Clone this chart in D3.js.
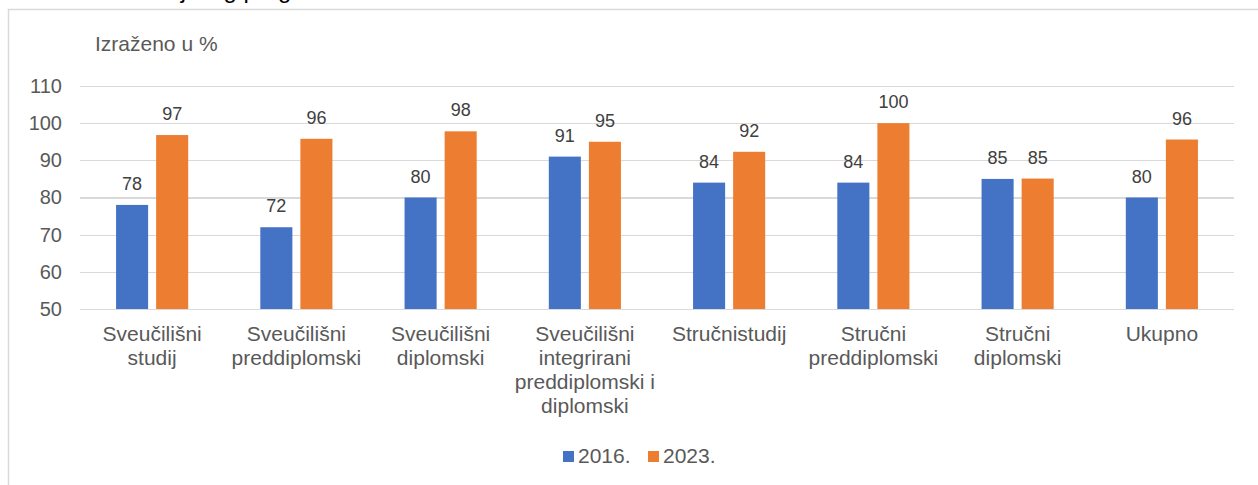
<!DOCTYPE html>
<head>
  <meta charset="utf-8">
  <script src="https://d3js.org/d3.v7.min.js"></script>
  <style>
    body { margin: 0; background: #fff; }
    svg { display: block; font-family: "Liberation Sans", Arial, sans-serif; }
    .grid line { stroke: #d9d9d9; stroke-width: 1.2px; shape-rendering: crispEdges; }
    .grid path { stroke-width: 0; }
    .grid text { fill: #595959; font-size: 20px; }
    .cat text { fill: #595959; font-size: 21px; }
    .cat path, .cat line { display: none; }
    .lbl { fill: #404040; font-size: 18px; }
    .legend text { fill: #595959; font-size: 21px; }
  </style>
</head>
<body>
<svg width="1258" height="485"></svg>
<script>

// data
var categories = [
  ["Sveučilišni", "studij"],
  ["Sveučilišni", "preddiplomski"],
  ["Sveučilišni", "diplomski"],
  ["Sveučilišni", "integrirani", "preddiplomski i", "diplomski"],
  ["Stručnistudij"],
  ["Stručni", "preddiplomski"],
  ["Stručni", "diplomski"],
  ["Ukupno"]
];
var seriesNames = ["2016.", "2023."];
var values2016 = [78, 72, 80, 91, 84, 84, 85, 80];
var values2023 = [96.8, 95.8, 97.8, 95.0, 92.3, 100, 85.1, 95.6];
var yTicks = [50, 60, 70, 80, 90, 100, 110];
var unitLabel = "Izraženo u %";
var titleFragment = "studijskog programa";

var colors = {"2016.": "#4472c4", "2023.": "#ed7d31"};

var svg = d3.select("svg");

// frame of the chart area and the cut off title above it
svg.append("rect")
    .attr("x", 8.5)
    .attr("y", 9.5)
    .attr("width", 1400)
    .attr("height", 700)
    .attr("fill", "none")
    .attr("stroke", "#d9d9d9")
    .attr("stroke-width", 1.5);

svg.append("text")
    .attr("x", 130)
    .attr("y", -2)
    .attr("font-size", "24px")
    .attr("fill", "#000")
    .text(titleFragment);

var plotLeft = 80, plotRight = 1234, plotTop = 86, plotBottom = 309;

var y = d3.scaleLinear()
    .domain([50, 110])
    .range([plotBottom, plotTop]);

var x0 = d3.scaleBand()
    .domain(d3.range(categories.length))
    .range([plotLeft, plotRight])
    .paddingInner(0.5)
    .paddingOuter(0.25);

var x1 = d3.scaleBand()
    .domain(seriesNames)
    .range([0, x0.bandwidth()])
    .paddingInner(0.2);

svg.append("g")
    .attr("class", "grid")
    .attr("transform", "translate(" + plotLeft + ",0)")
    .call(d3.axisLeft(y)
        .tickValues(yTicks)
        .tickSize(-(plotRight - plotLeft))
        .tickPadding(18));

svg.append("text")
    .attr("x", 95)
    .attr("y", 51)
    .attr("fill", "#595959")
    .attr("font-size", "21px")
    .text(unitLabel);

var rows = categories.map(function(c, i) {
  return {i: i, values: [
    {key: "2016.", value: values2016[i]},
    {key: "2023.", value: values2023[i]}
  ]};
});

var group = svg.selectAll(".group")
    .data(rows)
    .enter()
    .append("g")
    .attr("class", "group")
    .attr("transform", function(d) { return "translate(" + x0(d.i) + ",0)"; });

group.selectAll("rect")
    .data(function(d) { return d.values; })
    .enter()
    .append("rect")
    .attr("x", function(d) { return x1(d.key); })
    .attr("y", function(d) { return y(d.value); })
    .attr("width", x1.bandwidth())
    .attr("height", function(d) { return y(50) - y(d.value); })
    .attr("fill", function(d) { return colors[d.key]; });

group.selectAll(".lbl")
    .data(function(d) { return d.values; })
    .enter()
    .append("text")
    .attr("class", "lbl")
    .attr("x", function(d) { return x1(d.key) + x1.bandwidth() / 2; })
    .attr("y", function(d) { return y(d.value) - 15; })
    .attr("text-anchor", "middle")
    .text(function(d) { return d3.format(".0f")(d.value); });

// category labels, several lines each
var xAxis = svg.append("g")
    .attr("class", "cat")
    .attr("transform", "translate(0," + plotBottom + ")")
    .call(d3.axisBottom(x0).tickSize(0));

xAxis.selectAll("text")
    .attr("dy", null)
    .attr("y", null)
    .text(null)
    .each(function(i) {
      var t = d3.select(this);
      categories[i].forEach(function(line, k) {
        t.append("tspan")
            .attr("x", 0)
            .attr("y", 32 + k * 24)
            .text(line);
      });
    });

// legend
var legend = svg.append("g").attr("class", "legend");
var legendX = [563, 648];
seriesNames.forEach(function(s, i) {
  legend.append("rect")
      .attr("x", legendX[i])
      .attr("y", 451)
      .attr("width", 11)
      .attr("height", 11)
      .attr("fill", colors[s]);
  legend.append("text")
      .attr("x", legendX[i] + 15)
      .attr("y", 463)
      .text(s);
});

</script>
</body>
